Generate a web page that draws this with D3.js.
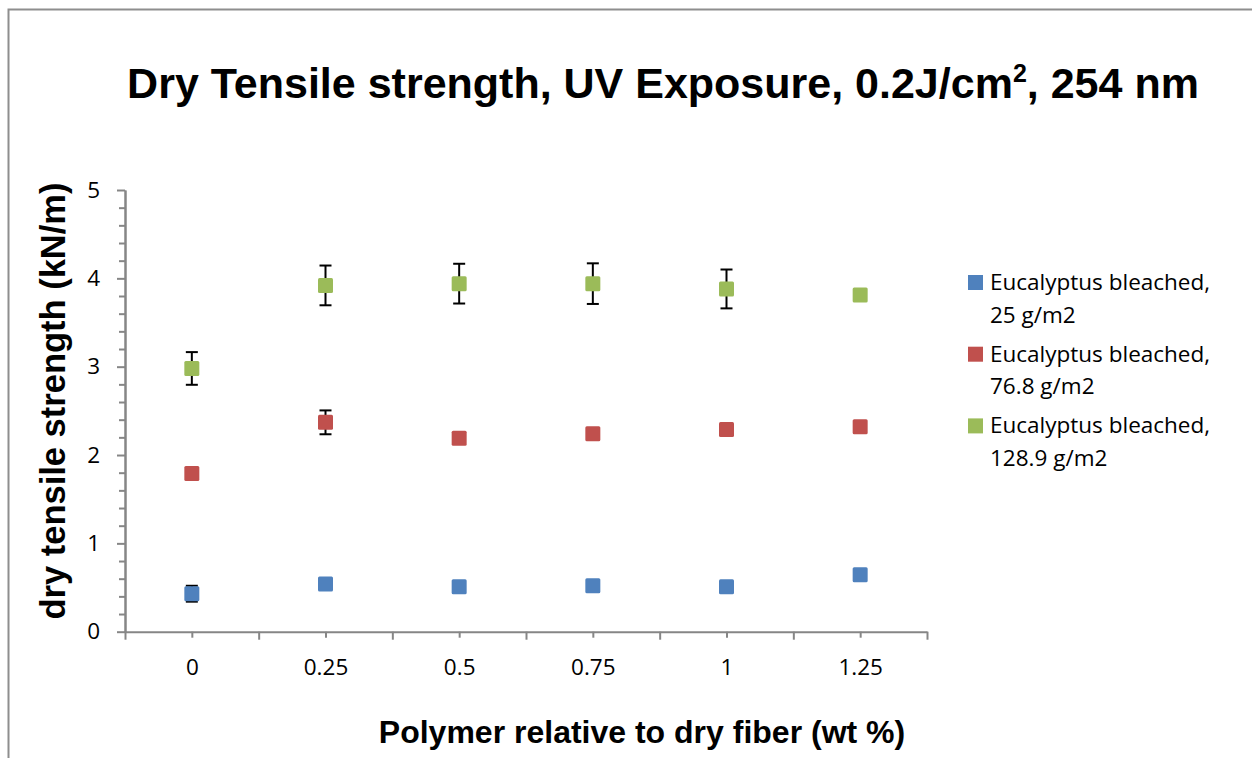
<!DOCTYPE html>
<html>
<head>
<meta charset="utf-8">
<script src="https://cdn.jsdelivr.net/npm/d3@7/dist/d3.min.js"></script>
<style>
  body { margin: 0; background: #fff; }
  svg { display: block; }
</style>
</head>
<body>
<svg width="1252" height="758"></svg>
<script>
// categories on x (wt %)
var categories = [0, 0.25, 0.5, 0.75, 1, 1.25];

// series names (legend, two lines each)
var seriesNames = [
    ["Eucalyptus bleached,", "25 g/m2"],
    ["Eucalyptus bleached,", "76.8 g/m2"],
    ["Eucalyptus bleached,", "128.9 g/m2"]
];

// values (kN/m)
var blueValues  = [0.43, 0.54, 0.51, 0.52, 0.51, 0.645];
var redValues   = [1.79, 2.37, 2.19, 2.24, 2.29, 2.32];
var greenValues = [2.98, 3.92, 3.94, 3.94, 3.88, 3.81];

// error bars (+/-), null where none is drawn
var blueErrors  = [0.09, null, null, null, null, null];
var redErrors   = [null, 0.135, null, null, null, null];
var greenErrors = [0.185, 0.225, 0.225, 0.23, 0.22, null];

var yTickValues = [0, 1, 2, 3, 4, 5];

var colors = ["#4F81BD", "#C0504D", "#9BBB59"];

var svg = d3.select("svg");

// chart frame
svg.append("rect")
    .attr("x", 8.5).attr("y", 9.5)
    .attr("width", 1300).attr("height", 800)
    .attr("fill", "none")
    .attr("stroke", "#8e8e8e")
    .attr("stroke-width", 2);

// scales
var xScale = d3.scaleLinear().domain([-0.125, 1.375]).range([125, 927]);
var yScale = d3.scaleLinear().domain([0, 5]).range([631.7, 190]);

var axisColor = "#868686";
var tickFont = "'Open Sans', sans-serif";
var tickSize = "22.5px";

// x axis: long ticks between categories, short ticks at categories + labels
var boundaries = d3.range(7).map(function(i) { return -0.125 + i * 0.25; });

svg.append("g")
    .attr("transform", "translate(0," + yScale(0) + ")")
    .call(d3.axisBottom(xScale).tickValues(boundaries).tickSize(8).tickSizeOuter(0).tickFormat(""));

var xAxisCat = svg.append("g")
    .attr("transform", "translate(0," + yScale(0) + ")")
    .call(d3.axisBottom(xScale).tickValues(categories).tickSize(6).tickSizeOuter(0)
        .tickPadding(21).tickFormat(function(d) { return String(d); }));
xAxisCat.select(".domain").remove();

// y axis: major ticks with labels, minor ticks every 0.2
var minor = d3.range(26).map(function(i) { return i * 0.2; })
    .filter(function(v) { return Math.abs(v - Math.round(v)) > 0.01; });

svg.append("g")
    .attr("transform", "translate(" + xScale(-0.125) + ",0)")
    .call(d3.axisLeft(yScale).tickValues(minor).tickSize(6).tickSizeOuter(0).tickFormat(""));

svg.append("g")
    .attr("transform", "translate(" + xScale(-0.125) + ",0)")
    .call(d3.axisLeft(yScale).tickValues(yTickValues).tickSize(8).tickSizeOuter(0)
        .tickPadding(17).tickFormat(function(d) { return String(d); }));

svg.selectAll(".domain, .tick line")
    .attr("stroke", axisColor)
    .attr("stroke-width", 2);

svg.selectAll(".tick text")
    .attr("fill", "#000")
    .style("font-family", tickFont)
    .style("font-size", tickSize);

// series
var series = [
    { values: blueValues, errors: blueErrors, color: colors[0] },
    { values: redValues, errors: redErrors, color: colors[1] },
    { values: greenValues, errors: greenErrors, color: colors[2] }
];

var markerSize = 15;
var capHalf = 6;

series.forEach(function(s) {
    var g = svg.append("g");
    var pts = categories.map(function(c, i) {
        return { x: c, y: s.values[i], err: s.errors[i] };
    });

    var withErr = pts.filter(function(d) { return d.err !== null; });

    // vertical part
    g.selectAll("line.err")
      .data(withErr)
      .enter()
      .append("line")
        .attr("x1", d => xScale(d.x))
        .attr("x2", d => xScale(d.x))
        .attr("y1", d => yScale(d.y + d.err))
        .attr("y2", d => yScale(d.y - d.err))
        .attr("stroke", "#000")
        .attr("stroke-width", 2);

    // caps
    [1, -1].forEach(function(sign) {
        g.selectAll("line.cap" + sign)
          .data(withErr)
          .enter()
          .append("line")
            .attr("x1", d => xScale(d.x) - capHalf)
            .attr("x2", d => xScale(d.x) + capHalf)
            .attr("y1", d => yScale(d.y + sign * d.err))
            .attr("y2", d => yScale(d.y + sign * d.err))
            .attr("stroke", "#000")
            .attr("stroke-width", 2);
    });

    g.selectAll("rect")
      .data(pts)
      .enter()
      .append("rect")
        .attr("x", d => xScale(d.x) - markerSize / 2)
        .attr("y", d => yScale(d.y) - markerSize / 2)
        .attr("width", markerSize)
        .attr("height", markerSize)
        .attr("rx", 1.5)
        .attr("fill", s.color);
});

// title
var title = svg.append("text")
    .attr("x", 663)
    .attr("y", 98)
    .attr("text-anchor", "middle")
    .style("font-family", "'Liberation Sans', Arial, sans-serif")
    .style("font-weight", "bold")
    .style("font-size", "43px")
    .attr("fill", "#000");
title.append("tspan").text("Dry Tensile strength, UV Exposure, 0.2J/cm");
title.append("tspan").attr("dy", -16).style("font-size", "25px").text("2");
title.append("tspan").attr("dy", 16).text(", 254 nm");

// axis titles
svg.append("text")
    .attr("transform", "translate(65,401) rotate(-90)")
    .attr("text-anchor", "middle")
    .style("font-family", "'Liberation Sans', Arial, sans-serif")
    .style("font-weight", "bold")
    .style("font-size", "34.5px")
    .attr("fill", "#000")
    .text("dry tensile strength (kN/m)");

svg.append("text")
    .attr("x", 642)
    .attr("y", 743)
    .attr("text-anchor", "middle")
    .style("font-family", "'Liberation Sans', Arial, sans-serif")
    .style("font-weight", "bold")
    .style("font-size", "32px")
    .attr("fill", "#000")
    .text("Polymer relative to dry fiber (wt %)");

// legend
var legend = svg.append("g").attr("transform", "translate(968,275)");
var entries = legend.selectAll("g")
    .data(seriesNames)
    .enter()
    .append("g")
      .attr("transform", (d, i) => "translate(0," + (i * 71.7) + ")");

entries.append("rect")
    .attr("width", 15)
    .attr("height", 15)
    .attr("fill", (d, i) => colors[i]);

entries.append("text")
    .attr("x", 22)
    .attr("y", 15)
    .style("font-family", tickFont)
    .style("font-size", tickSize)
    .attr("fill", "#000")
    .selectAll("tspan")
    .data(d => d)
    .enter()
    .append("tspan")
      .attr("x", 22)
      .attr("dy", (d, i) => i === 0 ? 0 : 32.5)
      .text(d => d);
</script>
</body>
</html>
